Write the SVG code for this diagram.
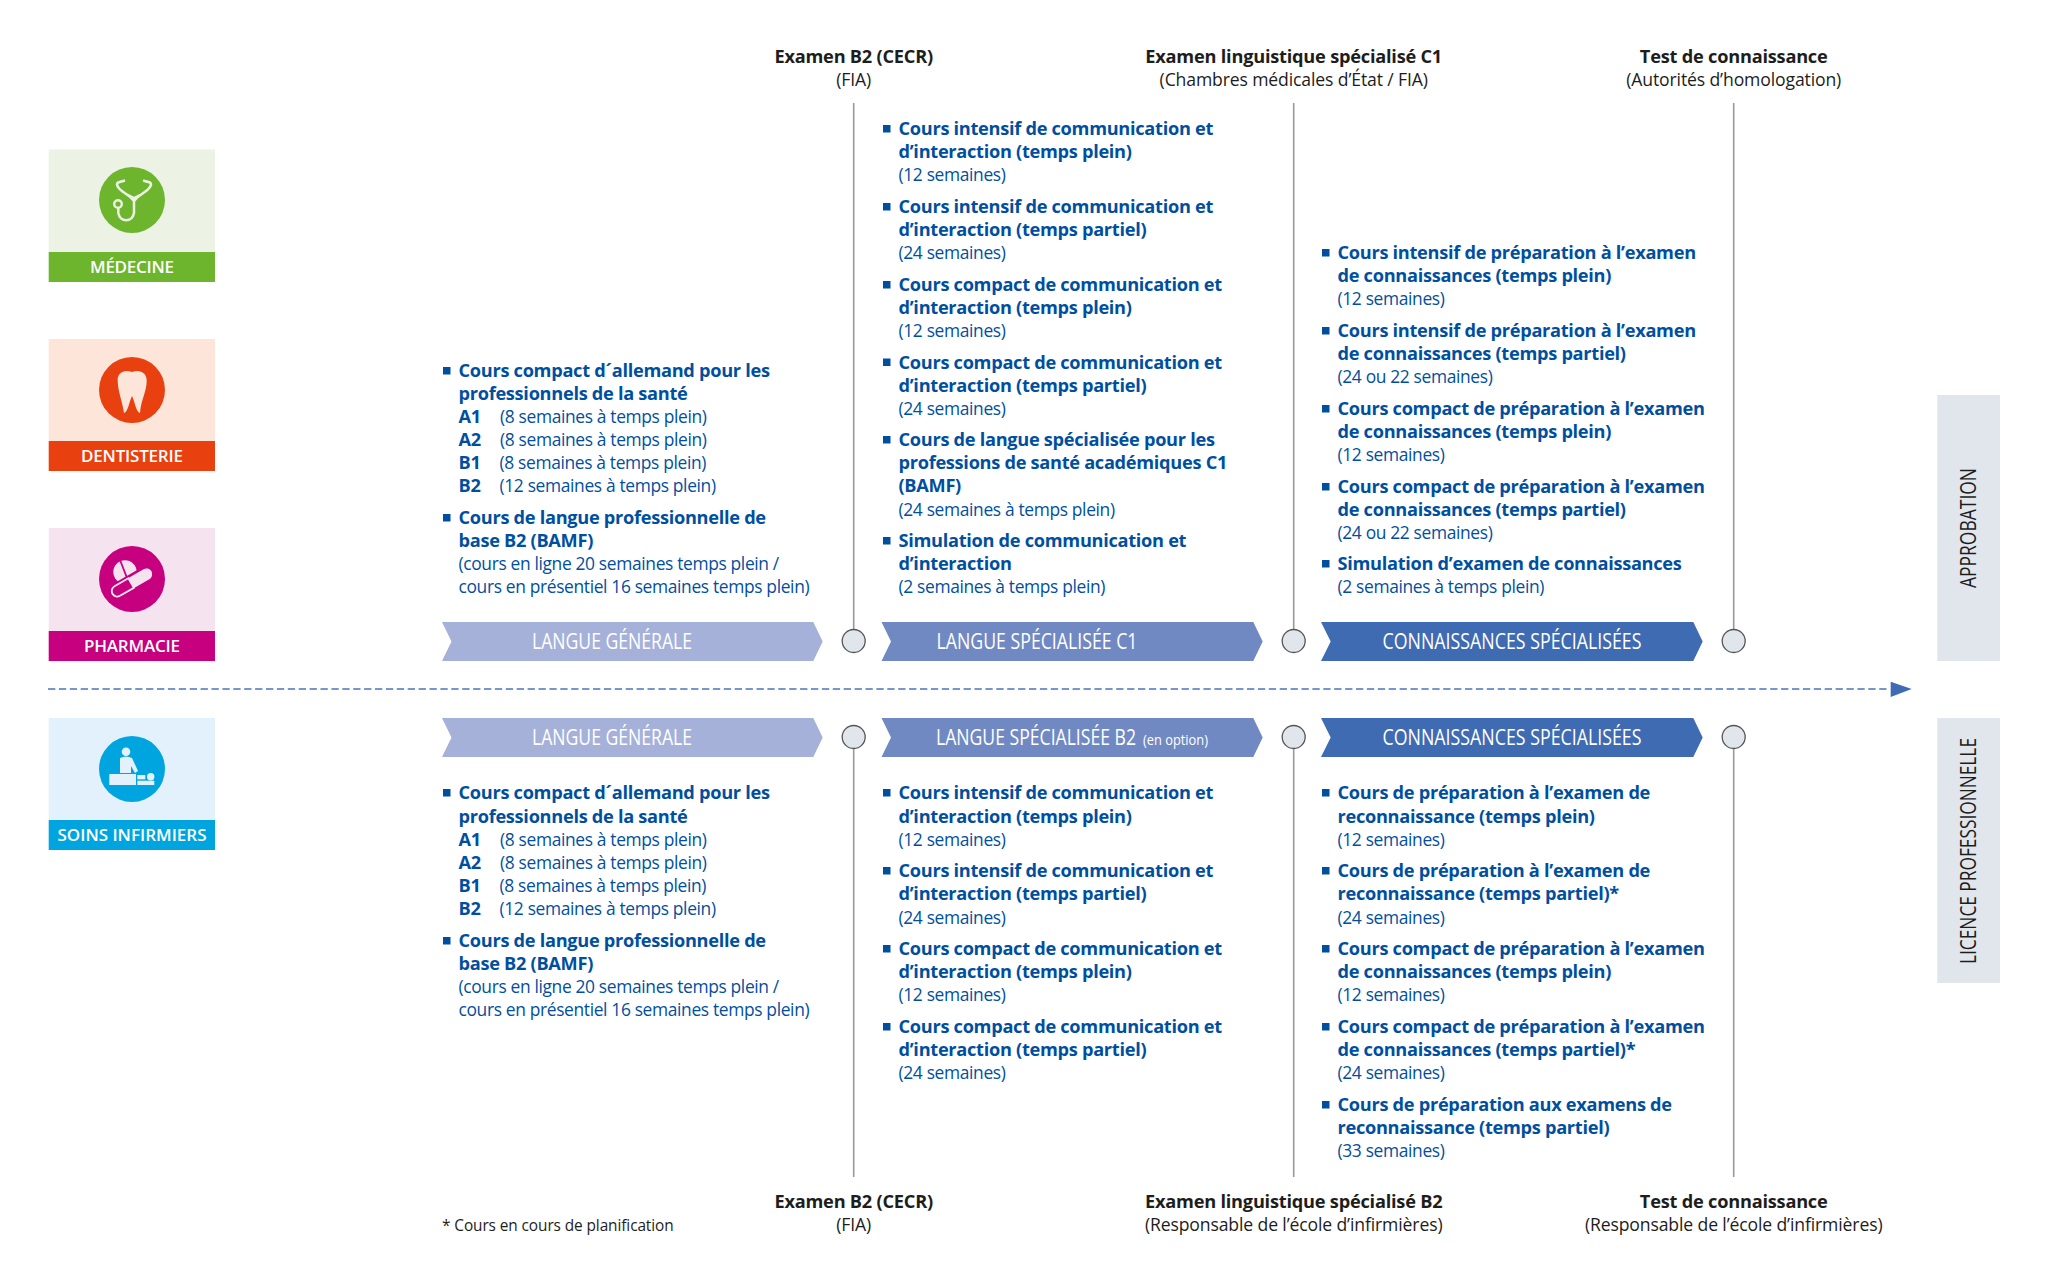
<svg xmlns="http://www.w3.org/2000/svg" width="2048" height="1280" viewBox="0 0 2048 1280">
<defs>
<style>
text{font-family:"Open Sans","Noto Sans","Liberation Sans",sans-serif}
.b{font-size:18.2px;font-weight:700;fill:#004f9f;letter-spacing:-.29px}
.n{font-size:17.4px;fill:#004f9f;letter-spacing:-.35px}
.hb{font-size:18.2px;font-weight:700;fill:#1d1d1b;text-anchor:middle;letter-spacing:-.22px}
.hn{font-size:17.6px;fill:#1d1d1b;text-anchor:middle;letter-spacing:-.13px}
.bl{fill:#004f9f}
.al{font-size:21.500px;fill:#fff;text-anchor:middle}
.cl{font-size:17px;font-weight:600;fill:#fff;text-anchor:middle}
.rl{font-size:21px;fill:#1d1d1b;text-anchor:middle}
.v{stroke:#999;stroke-width:1.6;fill:none}
.c{fill:#e1e5ec;stroke:#555;stroke-width:1.3}
</style>
</defs>
<rect width="2048" height="1280" fill="#fff"/>

<g id="connectors">
<path class="v" d="M853.700 103V630M1293.700 103V630M1733.700 103V630M853.700 748V1177M1293.700 748V1177M1733.700 748V1177"/>
<path d="M48 689H1890" stroke="#4a74bd" stroke-width="1.600" stroke-dasharray="7.300 3.600" fill="none"/>
<path d="M1890.700 681.700L1911.700 689L1890.700 697Z" fill="#3f6bb3"/>
</g>

<g id="card-medecine">
<rect x="48.700" y="149.500" width="166.300" height="102.500" fill="#ecf2e4"/>
<rect x="48.700" y="252" width="166.300" height="30" fill="#6cb52d"/>
<circle cx="132" cy="200" r="33" fill="#6cb52d"/>
<path d="M125 180.500L118 182.500Q116 184 118 187C122 193 129 194 134 201C139 194 146 193 150 187Q152 184 150 182.500L143 180.500M126 194L134 198L142 194M134 201V213A8 9 0 0 1 118.300 213V208" fill="none" stroke="#ecf2e4" stroke-width="2.500"/>
<circle cx="118" cy="204" r="3.800" fill="none" stroke="#ecf2e4" stroke-width="2.400"/>
<text class="cl" x="132" y="272.700" textLength="84" lengthAdjust="spacing">MÉDECINE</text>
</g>
<g id="card-dentisterie">
<rect x="48.700" y="339" width="166.300" height="102.500" fill="#fde5da"/>
<rect x="48.700" y="441" width="166.300" height="30" fill="#e8410f"/>
<circle cx="132" cy="390" r="33" fill="#e8410f"/>
<path d="M117.700 381C117 372 125 369 132 372C139 369 147 372 146.700 381C146.500 392 141 400 140 413C136 412 135 402 132 396C129 402 128 412 124 413C122 400 118 392 117.700 381Z" fill="#fde5da"/>
<text class="cl" x="132" y="462" textLength="102" lengthAdjust="spacing">DENTISTERIE</text>
</g>
<g id="card-pharmacie">
<rect x="48.700" y="528" width="166.300" height="103" fill="#f5e3ef"/>
<rect x="48.700" y="631" width="166.300" height="30" fill="#c6007e"/>
<circle cx="132" cy="579" r="33" fill="#c6007e"/>
<circle cx="125" cy="572" r="11.700" fill="#f5e3ef"/>
<path d="M120 560L129 583" stroke="#c6007e" stroke-width="1.800"/>
<g transform="rotate(-30 131.700 582.700)">
<rect x="107.700" y="575.700" width="48" height="14" rx="7" fill="#f5e3ef" stroke="#c6007e" stroke-width="2.400"/>
<path d="M131 577.200H115A5.500 5.500 0 0 0 115 588.200H131Z" fill="#c6007e" stroke="#f5e3ef" stroke-width="1.800"/>
</g>
<text class="cl" x="132" y="651.700" textLength="96" lengthAdjust="spacing">PHARMACIE</text>
</g>
<g id="card-soins">
<rect x="48.700" y="718" width="166.300" height="102.500" fill="#e2f1fc"/>
<rect x="48.700" y="820" width="166.300" height="30" fill="#00a5e0"/>
<circle cx="132" cy="769" r="33" fill="#00a5e0"/>
<g fill="#e2f1fc">
<circle cx="126" cy="751.700" r="4.300"/>
<path d="M120 758Q126 755 132 758L138 771L135 773L131 766L131 773L120 773Z"/>
<rect x="109.300" y="774" width="26.700" height="11"/>
<circle cx="150.700" cy="776.700" r="3.700"/>
<rect x="137.300" y="775" width="8" height="4.300"/>
<rect x="137.300" y="780.700" width="17" height="4.300"/>
</g>
<text class="cl" x="132" y="841" textLength="149" lengthAdjust="spacing">SOINS INFIRMIERS</text>
</g>

<g id="header-top">
<text class="hb" x="853.700" y="63">Examen B2 (CECR)</text><text class="hn" x="853.700" y="86">(FIA)</text>
<text class="hb" x="1293.700" y="63">Examen linguistique spécialisé C1</text><text class="hn" x="1293.700" y="86">(Chambres médicales d’État / FIA)</text>
<text class="hb" x="1733.700" y="63">Test de connaissance</text><text class="hn" x="1733.700" y="86">(Autorités d’homologation)</text>
</g>
<g id="header-bottom">
<text class="hb" x="853.700" y="1208">Examen B2 (CECR)</text><text class="hn" x="853.700" y="1231">(FIA)</text>
<text class="hb" x="1293.700" y="1208">Examen linguistique spécialisé B2</text><text class="hn" x="1293.700" y="1231">(Responsable de l’école d’infirmières)</text>
<text class="hb" x="1733.700" y="1208">Test de connaissance</text><text class="hn" x="1733.700" y="1231">(Responsable de l’école d’infirmières)</text>
<text x="442" y="1231" font-size="15.400" letter-spacing="-.09" fill="#1d1d1b">* Cours en cours de planification</text>
</g>

<g id="step-top-1"><path d="M442 622H813.300L822.700 641.500L813.300 661H442L451.500 641.500Z" fill="#a6b1d9"/><text class="al" x="612" y="648.500" textLength="160" lengthAdjust="spacingAndGlyphs">LANGUE GÉNÉRALE</text><circle class="c" cx="853.700" cy="641" r="11.500"/></g>
<g id="step-top-2"><path d="M881.500 622H1253.300L1262.700 641.500L1253.300 661H881.500L891 641.500Z" fill="#7189c3"/><text class="al" x="1037" y="648.500" textLength="201" lengthAdjust="spacingAndGlyphs">LANGUE SPÉCIALISÉE C1</text><circle class="c" cx="1293.700" cy="641" r="11.500"/></g>
<g id="step-top-3"><path d="M1321 622H1693.300L1702.700 641.500L1693.300 661H1321L1330.700 641.500Z" fill="#3f6bb3"/><text class="al" x="1512" y="648.500" textLength="259" lengthAdjust="spacingAndGlyphs">CONNAISSANCES SPÉCIALISÉES</text><circle class="c" cx="1733.700" cy="641" r="11.500"/></g>
<g id="step-bottom-1"><path d="M442 718H813.300L822.700 737.500L813.300 757H442L451.500 737.500Z" fill="#a6b1d9"/><text class="al" x="612" y="744.500" textLength="160" lengthAdjust="spacingAndGlyphs">LANGUE GÉNÉRALE</text><circle class="c" cx="853.700" cy="737" r="11.500"/></g>
<g id="step-bottom-2"><path d="M881.500 718H1253.300L1262.700 737.500L1253.300 757H881.500L891 737.500Z" fill="#7189c3"/><text class="al" x="936" y="744.500" style="text-anchor:start" textLength="200" lengthAdjust="spacingAndGlyphs">LANGUE SPÉCIALISÉE B2</text><text x="1143" y="744.500" font-size="15" fill="#fff" textLength="65" lengthAdjust="spacingAndGlyphs">(en option)</text><circle class="c" cx="1293.700" cy="737" r="11.500"/></g>
<g id="step-bottom-3"><path d="M1321 718H1693.300L1702.700 737.500L1693.300 757H1321L1330.700 737.500Z" fill="#3f6bb3"/><text class="al" x="1512" y="744.500" textLength="259" lengthAdjust="spacingAndGlyphs">CONNAISSANCES SPÉCIALISÉES</text><circle class="c" cx="1733.700" cy="737" r="11.500"/></g>

<g id="side-approbation"><rect x="1937.300" y="395" width="62.700" height="266" fill="#e1e5ec"/><text class="rl" transform="translate(1976 528) rotate(-90)" textLength="120" lengthAdjust="spacingAndGlyphs">APPROBATION</text></g>
<g id="side-licence"><rect x="1937.300" y="718" width="62.700" height="265" fill="#e1e5ec"/><text class="rl" transform="translate(1976 851) rotate(-90)" textLength="226" lengthAdjust="spacingAndGlyphs">LICENCE PROFESSIONNELLE</text></g>

<g id="top-col1">
<rect class="bl" x="443" y="367" width="7.500" height="7.500"/>
<text class="b" x="458.500" y="377">Cours compact d´allemand pour les</text>
<text class="b" x="458.500" y="400">professionnels de la santé</text>
<text class="b" x="458.500" y="423">A1</text><text class="n" x="500" y="423">(8 semaines à temps plein)</text>
<text class="b" x="458.500" y="446">A2</text><text class="n" x="500" y="446">(8 semaines à temps plein)</text>
<text class="b" x="458.500" y="469">B1</text><text class="n" x="499.500" y="469">(8 semaines à temps plein)</text>
<text class="b" x="458.500" y="492">B2</text><text class="n" x="499.500" y="492">(12 semaines à temps plein)</text>
<rect class="bl" x="443" y="514" width="7.500" height="7.500"/>
<text class="b" x="458.500" y="524">Cours de langue professionnelle de</text>
<text class="b" x="458.500" y="547">base B2 (BAMF)</text>
<text class="n" x="458.500" y="570">(cours en ligne 20 semaines temps plein /</text>
<text class="n" x="458.500" y="593">cours en présentiel 16 semaines temps plein)</text>
</g>
<g id="top-col2">
<rect class="bl" x="883" y="125" width="7.500" height="7.500"/>
<text class="b" x="898.500" y="135">Cours intensif de communication et</text>
<text class="b" x="898.500" y="158">d’interaction (temps plein)</text>
<text class="n" x="898.500" y="181">(12 semaines)</text>
<rect class="bl" x="883" y="203" width="7.500" height="7.500"/>
<text class="b" x="898.500" y="213">Cours intensif de communication et</text>
<text class="b" x="898.500" y="236">d’interaction (temps partiel)</text>
<text class="n" x="898.500" y="259">(24 semaines)</text>
<rect class="bl" x="883" y="281" width="7.500" height="7.500"/>
<text class="b" x="898.500" y="291">Cours compact de communication et</text>
<text class="b" x="898.500" y="314">d’interaction (temps plein)</text>
<text class="n" x="898.500" y="337">(12 semaines)</text>
<rect class="bl" x="883" y="358.500" width="7.500" height="7.500"/>
<text class="b" x="898.500" y="368.500">Cours compact de communication et</text>
<text class="b" x="898.500" y="391.500">d’interaction (temps partiel)</text>
<text class="n" x="898.500" y="414.500">(24 semaines)</text>
<rect class="bl" x="883" y="436" width="7.500" height="7.500"/>
<text class="b" x="898.500" y="446">Cours de langue spécialisée pour les</text>
<text class="b" x="898.500" y="469">professions de santé académiques C1</text>
<text class="b" x="898.500" y="492">(BAMF)</text>
<text class="n" x="898.500" y="516">(24 semaines à temps plein)</text>
<rect class="bl" x="883" y="537" width="7.500" height="7.500"/>
<text class="b" x="898.500" y="547">Simulation de communication et</text>
<text class="b" x="898.500" y="570">d’interaction</text>
<text class="n" x="898.500" y="593">(2 semaines à temps plein)</text>
</g>
<g id="top-col3">
<rect class="bl" x="1322" y="249" width="7.500" height="7.500"/>
<text class="b" x="1337.500" y="259">Cours intensif de préparation à l’examen</text>
<text class="b" x="1337.500" y="282">de connaissances (temps plein)</text>
<text class="n" x="1337.500" y="305">(12 semaines)</text>
<rect class="bl" x="1322" y="327" width="7.500" height="7.500"/>
<text class="b" x="1337.500" y="337">Cours intensif de préparation à l’examen</text>
<text class="b" x="1337.500" y="360">de connaissances (temps partiel)</text>
<text class="n" x="1337.500" y="383">(24 ou 22 semaines)</text>
<rect class="bl" x="1322" y="405" width="7.500" height="7.500"/>
<text class="b" x="1337.500" y="415">Cours compact de préparation à l’examen</text>
<text class="b" x="1337.500" y="438">de connaissances (temps plein)</text>
<text class="n" x="1337.500" y="461">(12 semaines)</text>
<rect class="bl" x="1322" y="483" width="7.500" height="7.500"/>
<text class="b" x="1337.500" y="493">Cours compact de préparation à l’examen</text>
<text class="b" x="1337.500" y="516">de connaissances (temps partiel)</text>
<text class="n" x="1337.500" y="539">(24 ou 22 semaines)</text>
<rect class="bl" x="1322" y="560" width="7.500" height="7.500"/>
<text class="b" x="1337.500" y="570">Simulation d’examen de connaissances</text>
<text class="n" x="1337.500" y="593">(2 semaines à temps plein)</text>
</g>

<g id="bottom-col1">
<rect class="bl" x="443" y="789" width="7.500" height="7.500"/>
<text class="b" x="458.500" y="799">Cours compact d´allemand pour les</text>
<text class="b" x="458.500" y="823">professionnels de la santé</text>
<text class="b" x="458.500" y="846">A1</text><text class="n" x="500" y="846">(8 semaines à temps plein)</text>
<text class="b" x="458.500" y="869">A2</text><text class="n" x="500" y="869">(8 semaines à temps plein)</text>
<text class="b" x="458.500" y="892">B1</text><text class="n" x="499.500" y="892">(8 semaines à temps plein)</text>
<text class="b" x="458.500" y="915">B2</text><text class="n" x="499.500" y="915">(12 semaines à temps plein)</text>
<rect class="bl" x="443" y="937" width="7.500" height="7.500"/>
<text class="b" x="458.500" y="947">Cours de langue professionnelle de</text>
<text class="b" x="458.500" y="970">base B2 (BAMF)</text>
<text class="n" x="458.500" y="993">(cours en ligne 20 semaines temps plein /</text>
<text class="n" x="458.500" y="1016">cours en présentiel 16 semaines temps plein)</text>
</g>
<g id="bottom-col2">
<rect class="bl" x="883" y="789" width="7.500" height="7.500"/>
<text class="b" x="898.500" y="799">Cours intensif de communication et</text>
<text class="b" x="898.500" y="823">d’interaction (temps plein)</text>
<text class="n" x="898.500" y="846">(12 semaines)</text>
<rect class="bl" x="883" y="867" width="7.500" height="7.500"/>
<text class="b" x="898.500" y="877">Cours intensif de communication et</text>
<text class="b" x="898.500" y="900">d’interaction (temps partiel)</text>
<text class="n" x="898.500" y="924">(24 semaines)</text>
<rect class="bl" x="883" y="945" width="7.500" height="7.500"/>
<text class="b" x="898.500" y="955">Cours compact de communication et</text>
<text class="b" x="898.500" y="978">d’interaction (temps plein)</text>
<text class="n" x="898.500" y="1001">(12 semaines)</text>
<rect class="bl" x="883" y="1023" width="7.500" height="7.500"/>
<text class="b" x="898.500" y="1033">Cours compact de communication et</text>
<text class="b" x="898.500" y="1056">d’interaction (temps partiel)</text>
<text class="n" x="898.500" y="1079">(24 semaines)</text>
</g>
<g id="bottom-col3">
<rect class="bl" x="1322" y="789" width="7.500" height="7.500"/>
<text class="b" x="1337.500" y="799">Cours de préparation à l’examen de</text>
<text class="b" x="1337.500" y="823">reconnaissance (temps plein)</text>
<text class="n" x="1337.500" y="846">(12 semaines)</text>
<rect class="bl" x="1322" y="867" width="7.500" height="7.500"/>
<text class="b" x="1337.500" y="877">Cours de préparation à l’examen de</text>
<text class="b" x="1337.500" y="900">reconnaissance (temps partiel)*</text>
<text class="n" x="1337.500" y="924">(24 semaines)</text>
<rect class="bl" x="1322" y="945" width="7.500" height="7.500"/>
<text class="b" x="1337.500" y="955">Cours compact de préparation à l’examen</text>
<text class="b" x="1337.500" y="978">de connaissances (temps plein)</text>
<text class="n" x="1337.500" y="1001">(12 semaines)</text>
<rect class="bl" x="1322" y="1023" width="7.500" height="7.500"/>
<text class="b" x="1337.500" y="1033">Cours compact de préparation à l’examen</text>
<text class="b" x="1337.500" y="1056">de connaissances (temps partiel)*</text>
<text class="n" x="1337.500" y="1079">(24 semaines)</text>
<rect class="bl" x="1322" y="1101" width="7.500" height="7.500"/>
<text class="b" x="1337.500" y="1111">Cours de préparation aux examens de</text>
<text class="b" x="1337.500" y="1134">reconnaissance (temps partiel)</text>
<text class="n" x="1337.500" y="1157">(33 semaines)</text>
</g>
</svg>
